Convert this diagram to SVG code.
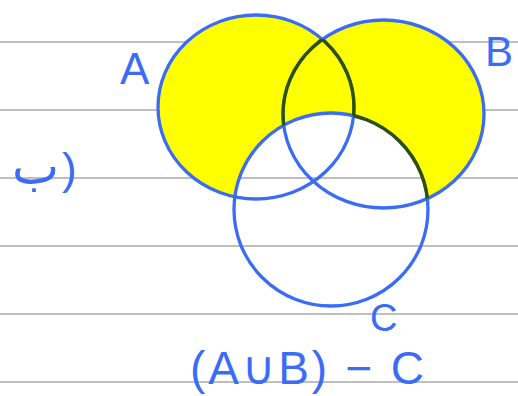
<svg xmlns="http://www.w3.org/2000/svg" width="518" height="396" viewBox="0 0 518 396">
<style>
.rule{stroke:#aaaaaa;stroke-width:1.5}
.ring{fill:none;stroke:#3b6cf6;stroke-width:3.3}
.dark{fill:none;stroke:#2f5200;stroke-width:3.3}
.hand{font-family:"Liberation Sans","DejaVu Sans",sans-serif;fill:#3b6cf6}
</style>
<defs>
<ellipse id="eA" cx="256" cy="107" rx="98" ry="92"/>
<ellipse id="eB" cx="383.5" cy="114" rx="100.5" ry="94"/>
<ellipse id="eC" cx="331" cy="209.5" rx="97" ry="96.5"/>
<mask id="mUnionMinusC" maskUnits="userSpaceOnUse" x="0" y="0" width="518" height="396">
<use href="#eA" fill="#fff"/><use href="#eB" fill="#fff"/><use href="#eC" fill="#000"/>
</mask>
<mask id="mAminusC" maskUnits="userSpaceOnUse" x="0" y="0" width="518" height="396">
<use href="#eA" fill="#fff"/><use href="#eC" fill="#000"/>
</mask>
<mask id="mBminusC" maskUnits="userSpaceOnUse" x="0" y="0" width="518" height="396">
<use href="#eB" fill="#fff"/><use href="#eC" fill="#000"/>
</mask>
<mask id="mBminusA" maskUnits="userSpaceOnUse" x="0" y="0" width="518" height="396">
<use href="#eB" fill="#fff"/><use href="#eA" fill="#000"/>
</mask>
</defs>
<rect width="518" height="396" fill="#fff"/>
<g id="rules">
<line class="rule" x1="0" y1="42" x2="518" y2="42"/>
<line class="rule" x1="0" y1="110" x2="518" y2="110"/>
<line class="rule" x1="0" y1="178" x2="518" y2="178"/>
<line class="rule" x1="0" y1="246" x2="518" y2="246"/>
<line class="rule" x1="0" y1="314" x2="518" y2="314"/>
<line class="rule" x1="0" y1="382" x2="518" y2="382"/>
</g>
<g id="shading" mask="url(#mUnionMinusC)">
<use href="#eA" fill="#ffff00"/><use href="#eB" fill="#ffff00"/>
</g>
<g id="setA"><use href="#eA" class="ring"/></g>
<g id="setB"><use href="#eB" class="ring"/></g>
<g id="setC"><use href="#eC" class="ring"/></g>
<g id="highlighted-edges">
<use href="#eB" class="dark" mask="url(#mAminusC)"/>
<use href="#eA" class="dark" mask="url(#mBminusC)"/>
<use href="#eC" class="dark" mask="url(#mBminusA)"/>
</g>
<g id="labels">
<text class="hand" x="120" y="84" font-size="44">A</text>
<text class="hand" x="485" y="66" font-size="42">B</text>
<text class="hand" x="370" y="331" font-size="38">C</text>
<text class="hand" x="190" y="384" font-size="46" textLength="234" lengthAdjust="spacing">(A∪B) − C</text>
<text class="hand" x="12" y="184" font-size="50" font-family="DejaVu Sans,sans-serif">ب</text>
<text class="hand" x="62" y="184" font-size="44">)</text>
</g>
</svg>
